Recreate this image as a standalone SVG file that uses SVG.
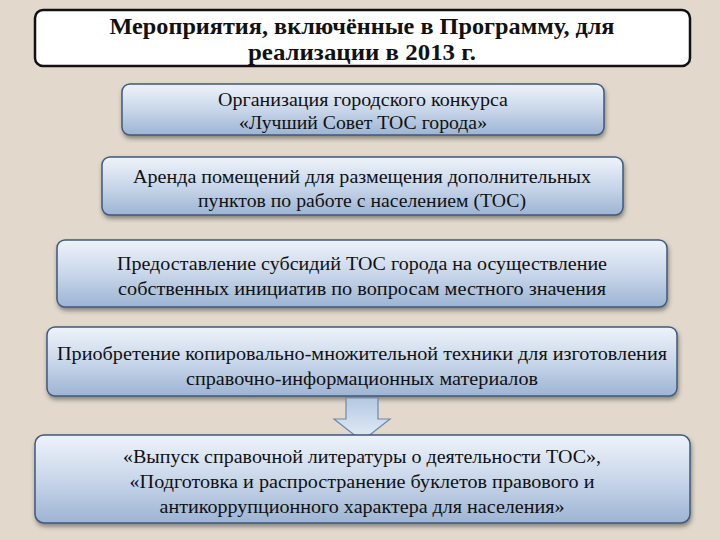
<svg xmlns="http://www.w3.org/2000/svg" width="720" height="540" viewBox="0 0 720 540">
<style>
.t{font-family:'Liberation Serif','Times New Roman',Tinos,'DejaVu Serif',serif;font-size:19px;fill:#111;text-anchor:middle}
.h{font-family:'Liberation Serif','Times New Roman',Tinos,'DejaVu Serif',serif;font-size:23px;font-weight:bold;fill:#111;text-anchor:middle}
.b{fill:url(#g);stroke:#3f5a7c;stroke-width:1.5;filter:url(#s)}
</style>
<defs>
<linearGradient id="g" x1="0" y1="0" x2="0" y2="1">
<stop offset="0" stop-color="#eef3fa"/><stop offset="0.5" stop-color="#c9d7ea"/><stop offset="1" stop-color="#9db4d3"/>
</linearGradient>
<linearGradient id="ga" x1="0" y1="0" x2="0" y2="1">
<stop offset="0" stop-color="#b4c8e2"/><stop offset="1" stop-color="#e6eef8"/>
</linearGradient>
<filter id="s" x="-5%" y="-20%" width="110%" height="150%"><feDropShadow dx="1" dy="3" stdDeviation="2" flood-color="#333" flood-opacity="0.5"/></filter>
</defs>
<rect width="720" height="540" fill="#e2d9cc"/>
<g id="title"><rect x="35" y="10" width="655" height="56" rx="8" fill="#fff" stroke="#111" stroke-width="2.5"/>
<text class="h" x="362" y="34" textLength="505" lengthAdjust="spacingAndGlyphs">Мероприятия, включённые в Программу,  для</text>
<text class="h" x="362" y="60" textLength="228" lengthAdjust="spacingAndGlyphs">реализации в 2013 г.</text></g>
<g id="n1"><rect class="b" x="122" y="84" width="482" height="51" rx="8"/>
<text class="t" x="363" y="106" textLength="290" lengthAdjust="spacingAndGlyphs">Организация городского конкурса</text>
<text class="t" x="363" y="129" textLength="248" lengthAdjust="spacingAndGlyphs">«Лучший Совет ТОС города»</text></g>
<g id="n2"><rect class="b" x="102" y="157" width="521" height="58" rx="8"/>
<text class="t" x="362" y="183" textLength="458" lengthAdjust="spacingAndGlyphs">Аренда помещений для размещения дополнительных</text>
<text class="t" x="362" y="207" textLength="328" lengthAdjust="spacingAndGlyphs">пунктов по работе с населением (ТОС)</text></g>
<g id="n3"><rect class="b" x="57" y="240" width="610" height="67" rx="8"/>
<text class="t" x="362" y="270" textLength="490" lengthAdjust="spacingAndGlyphs">Предоставление субсидий ТОС города на осуществление</text>
<text class="t" x="362" y="295" textLength="488" lengthAdjust="spacingAndGlyphs">собственных инициатив по вопросам местного значения</text></g>
<g id="n4"><rect class="b" x="47" y="327" width="630" height="69" rx="8"/>
<text class="t" x="362" y="360" textLength="610" lengthAdjust="spacingAndGlyphs">Приобретение копировально-множительной техники для изготовления</text>
<text class="t" x="362" y="385" textLength="352" lengthAdjust="spacingAndGlyphs">справочно-информационных материалов</text></g>
<g id="connectors"><path d="M346 398 H378 V419 H390 L362 441 L334 419 H346 Z" fill="url(#ga)" stroke="#6f88ab" stroke-width="1.2"/></g>
<g id="n5"><rect class="b" x="35" y="435" width="655" height="88" rx="9"/>
<text class="t" x="362" y="463" textLength="478" lengthAdjust="spacingAndGlyphs">«Выпуск справочной литературы о деятельности ТОС»,</text>
<text class="t" x="362" y="488" textLength="465" lengthAdjust="spacingAndGlyphs">«Подготовка и распространение буклетов правового и</text>
<text class="t" x="362" y="513" textLength="405" lengthAdjust="spacingAndGlyphs">антикоррупционного характера для населения»</text></g>
</svg>
